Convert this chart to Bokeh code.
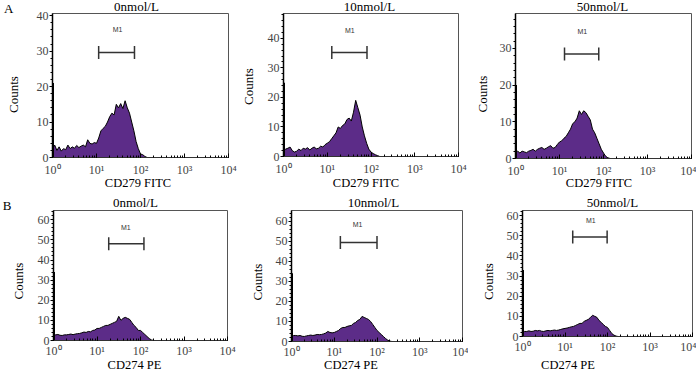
import numpy as np
from bokeh.plotting import figure
from bokeh.layouts import row, column
from bokeh.models import Range1d, SingleIntervalTicker, Label
from bokeh.core.properties import value
from bokeh.embed import file_html
from bokeh.resources import INLINE

# channel positions (log10 of fluorescence), 0.05-decade bins
decades = np.round(np.arange(0, 2.55, 0.05), 2)

titles = ["0nmol/L", "10nmol/L", "50nmol/L"]
x_labels = ["CD279 FITC", "CD274 PE"]
y_label = "Counts"
panel_letters = ["A", "B"]
tick_text = {1: "10\u2070", 10: "10\u00b9", 100: "10\u00b2", 1000: "10\u00b3", 10000: "10\u2074"}

counts_A1 = [2.5, 3.5, 2.0, 3.0, 1.8, 2.5, 2.2, 3.5, 2.5, 3.0,
             2.6, 3.4, 2.8, 3.2, 3.5, 3.0, 5.0, 4.0, 3.8, 4.2,
             4.0, 5.5, 7.5, 8.2, 8.8, 10.0, 11.5, 12.5, 12.0, 15.0,
             14.0, 15.2, 13.8, 16.0, 14.0, 12.5, 10.0, 7.5, 4.5, 2.5,
             1.0, 0.8, 0.3, 0, 0, 0, 0, 0, 0, 0, 0]
counts_A2 = [2.0, 2.5, 2.8, 3.2, 2.0, 1.5, 1.8, 2.5, 2.0, 2.8,
             2.5, 3.0, 2.2, 2.8, 3.2, 2.6, 2.8, 3.5, 3.2, 4.0,
             4.5, 5.0, 6.0, 7.0, 8.0, 10.0, 9.5, 10.5, 11.0, 12.5,
             13.0, 12.0, 15.0, 19.0, 16.5, 14.0, 10.0, 7.0, 4.5, 2.5,
             1.5, 1.0, 0.6, 0.3, 0, 0, 0, 0, 0, 0, 0]
counts_A3 = [1.5, 2.0, 1.5, 2.0, 1.8, 1.6, 2.0, 2.2, 2.5, 2.0,
             2.5, 2.8, 3.0, 2.5, 2.8, 3.2, 3.5, 2.8, 3.0, 3.8,
             4.5, 4.8, 5.5, 6.0, 7.0, 8.0, 9.5, 10.0, 11.0, 13.0,
             12.0, 13.0, 12.5, 11.5, 10.5, 8.0, 7.0, 5.5, 4.0, 2.5,
             1.5, 0.6, 0.2, 0, 0, 0, 0, 0, 0, 0, 0]
counts_B1 = [3.0, 2.8, 3.0, 2.6, 2.5, 2.8, 2.8, 3.0, 3.2, 2.9,
             3.2, 3.4, 3.5, 3.8, 4.2, 4.0, 4.5, 4.3, 5.0, 5.2,
             6.0, 6.0, 6.5, 7.0, 7.5, 7.5, 8.0, 8.5, 9.0, 9.5,
             12.0, 10.0, 11.0, 11.5, 11.0, 10.5, 9.0, 7.5, 6.5, 5.0,
             5.0, 4.0, 3.0, 2.0, 1.0, 0.3, 0, 0, 0, 0, 0]
counts_B2 = [2.5, 3.0, 3.0, 2.8, 3.0, 2.6, 2.5, 2.8, 3.0, 3.2,
             3.0, 3.2, 3.5, 3.4, 3.5, 3.8, 4.2, 5.0, 4.5, 4.3,
             4.5, 5.0, 5.5, 6.5, 7.0, 7.0, 7.5, 7.8, 8.0, 9.0,
             9.5, 10.5, 11.0, 12.5, 12.0, 11.5, 11.0, 10.0, 8.5, 7.0,
             5.5, 4.5, 3.5, 2.5, 1.5, 0.7, 0.2, 0, 0, 0, 0]
counts_B3 = [3.0, 2.5, 2.5, 2.8, 2.5, 2.6, 3.0, 2.8, 3.0, 2.6,
             2.5, 2.8, 3.0, 2.8, 3.0, 3.2, 3.0, 3.2, 3.5, 3.8,
             4.0, 4.2, 4.5, 4.8, 5.0, 5.5, 6.0, 6.5, 6.5, 7.5,
             8.0, 8.5, 9.5, 10.5, 10.0, 9.5, 8.0, 7.0, 6.0, 5.0,
             4.5, 3.0, 1.5, 0.7, 0.2, 0, 0, 0, 0, 0, 0]

# first-channel (off-scale low) counts
first_bin = [21, 25, 20, 34, 34, 33]
# y-axis upper limits
y_max = [40.6, 48.4, 39.5, 64.6, 65.3, 62.5]
# M1 gate: start, end, height, label position (x, y)
gate_start = [11.2, 12.7, 13.0, 18.6, 13.9, 15.2]
gate_end = [73, 81, 78, 120, 100, 98]
gate_y = [29.6, 35.2, 28.5, 48.1, 49.4, 49.4]
gate_label_x = [30, 32.7, 33, 46, 35, 40.6]
gate_label_y = [36.2, 42.8, 34.7, 56.4, 58.5, 57.7]

all_counts = [counts_A1, counts_A2, counts_A3, counts_B1, counts_B2, counts_B3]

# ---- layout / style settings (pixels) ----
W, H = 700, 372
borders = [  # left, frame_w, right, top, frame_h, bottom
    (50, 176, 10, 11, 144, 40),
    (45, 175, 10, 11, 143, 41),
    (47, 176, 5, 11, 145, 39),
    (51, 174, 11, 20, 130, 40),
    (53, 171, 6, 19, 131, 40),
    (54, 170, 4, 24, 126, 40),
]
ROW_B_SHIFT = -11  # overlap of the second row onto the first row's empty lower border
tick_standoff = [5, 5, 5, 3, 3, 3]
# text placement on the page (x centre, vertical centre y from top)
title_pos = [(136, 5.5), (369, 5.5), (602, 5.5), (135, 201.5), (373, 201.5), (612, 201.5)]
xlab_pos = [(137.5, 182.5), (365.5, 182.5), (598.5, 182.5), (134, 364.7), (350.5, 364.5), (567.5, 364.5)]
ylab_pos = [(13.3, 94), (248, 86), (482, 93.5), (18, 280.5), (257, 281.5), (488, 281)]
letter_pos = [(8.3, 8), (6.7, 205)]

SERIF = "Liberation Serif"
FILL = "#5c2c88"


def panel(i):
    bl, fw, br, bt, fh, bb = borders[i]
    p = figure(x_axis_type="log", x_range=Range1d(1, 10000), y_range=Range1d(0, y_max[i]),
               frame_width=fw, frame_height=fh,
               min_border_left=bl, min_border_right=br, min_border_top=bt, min_border_bottom=bb,
               output_backend="svg", toolbar_location=None)
    p.grid.visible = False
    p.outline_line_color = "#555555"
    p.outline_line_width = 1
    p.background_fill_color = "white"
    p.border_fill_alpha = 0

    x = 10 ** decades
    c = np.array(all_counts[i], dtype=float)
    p.varea(x=x, y1=np.zeros_like(c), y2=c, fill_color=FILL)
    p.line(x=x, y=c, line_color="black", line_width=1)
    p.segment(x0=[1], y0=[0], x1=[1], y1=[first_bin[i]], line_color="black", line_width=3)

    # M1 gate
    p.segment(x0=[gate_start[i]], y0=[gate_y[i]], x1=[gate_end[i]], y1=[gate_y[i]],
              line_color="#333333", line_width=1.5)
    p.scatter(x=[gate_start[i], gate_end[i]], y=[gate_y[i], gate_y[i]], marker="dash",
              angle=np.pi / 2, size=13, line_color="#333333", line_width=1.5)
    p.text(x=[gate_label_x[i]], y=[gate_label_y[i]], text=["M1"], text_font=value("Liberation Sans"),
           text_font_size="7px", text_align="center", text_baseline="middle", text_color="#333333")

    xa = p.xaxis[0]
    xa.major_label_overrides = tick_text
    xa.major_label_text_font = SERIF
    xa.major_label_text_font_size = "12px"
    xa.major_label_standoff = tick_standoff[i]
    xa.major_tick_in = 4
    xa.major_tick_out = 0
    xa.minor_tick_in = 2
    xa.minor_tick_out = 0
    xa.axis_line_color = "#333333"

    ya = p.yaxis[0]
    ya.ticker = SingleIntervalTicker(interval=10, num_minor_ticks=5)
    ya.major_label_text_font = SERIF
    ya.major_label_text_font_size = "12px"
    ya.major_label_standoff = 1
    ya.major_tick_in = 0
    ya.major_tick_out = 3
    ya.minor_tick_in = 0
    ya.minor_tick_out = 2
    ya.axis_line_color = "black"
    ya.axis_line_width = 1.5
    return p


panels = [panel(i) for i in range(6)]

# full-page layer (behind the transparent panel borders) carrying titles and axis captions
ov = figure(width=W, height=H, x_range=Range1d(0, W), y_range=Range1d(0, H),
            min_border=0, output_backend="svg", toolbar_location=None,
            x_axis_location=None, y_axis_location=None, tools="")
ov.grid.visible = False
ov.outline_line_color = None
ov.background_fill_color = "white"
ov.border_fill_color = "white"


def caption(x, y, text, size, angle=0.0):
    ov.add_layout(Label(x=x, y=H - y, text=text, angle=angle, text_font=SERIF, text_font_size=size,
                        text_align="center", text_baseline="middle", text_color="black"))


for i in range(6):
    caption(*title_pos[i], titles[i % 3], "13px")
    caption(*xlab_pos[i], x_labels[i // 3], "12.5px")
    caption(*ylab_pos[i], y_label, "13px", angle=np.pi / 2)
for k in range(2):
    caption(*letter_pos[k], panel_letters[k], "13px")

row_a = row(*panels[:3], spacing=0, margin=(2 - H, 0, 0, 2))
row_b = row(*panels[3:], spacing=0, margin=(ROW_B_SHIFT, 0, 0, 2))

layout = column(ov, row_a, row_b, spacing=0, width=W, height=H,
                styles={"overflow": "hidden"})

open("out.html", "w").write(file_html(layout, INLINE))
